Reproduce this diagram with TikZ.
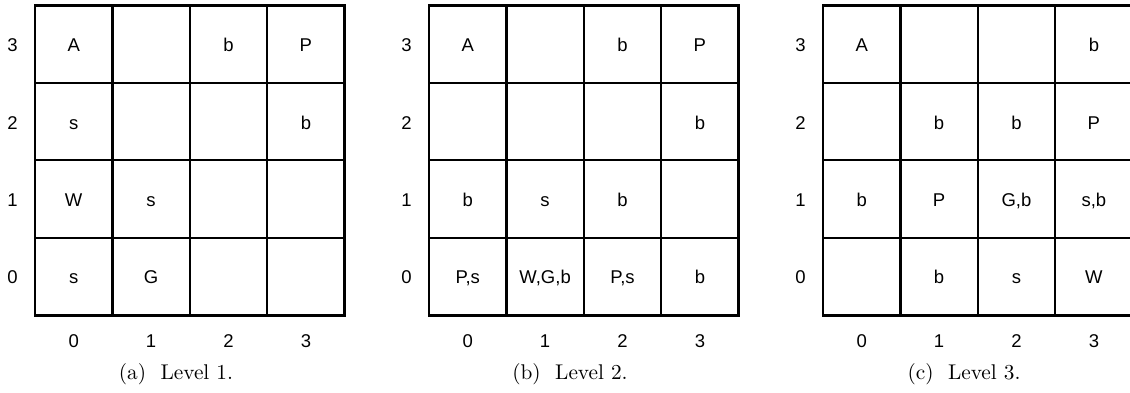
\documentclass[tikz,border=0pt]{standalone}
\usepackage{graphicx}
\usepackage{fontspec}
\newfontfamily\gridfont{Liberation Sans}
\tikzset{
  celltext/.style={font=\gridfont\fontsize{18.5}{22}\selectfont, anchor=base, inner sep=0pt},
  captext/.style={font=\fontsize{10}{12}\selectfont, anchor=base, inner sep=0pt},
  outerline/.style={line width=2.8pt, line join=miter},
  innerline/.style={line width=2.2pt},
}
\newcommand\drawlevel[5]{%
  \begin{scope}[xshift=#2pt]
    \foreach \i in {1,2,3} {
      \draw[innerline] ({77.4*\i},5.5) -- ({77.4*\i},315.1);
      \draw[innerline] (0,{5.5+77.4*\i}) -- (309.6,{5.5+77.4*\i});
    }
    \draw[outerline] (0,5.5) rectangle (309.6,315.1);
    \foreach \c/\r/\t in {#3}
      \node[celltext] (#1-\c-\r) at ({38.7+77.4*\c},{5.5+38.7+77.4*(3-\r)+7.5}) {\t};
    \foreach \r in {0,...,3}
      \node[celltext] (#1-row\r) at (-22.5,{5.5+38.7+77.4*(3-\r)+7.5}) {\r};
    \foreach \c in {0,...,3}
      \node[celltext] (#1-col\c) at ({38.7+77.4*\c},347) {\c};
    \node[captext] (#1-cap) at (141,379) {\scalebox{2.13}{(#1)\hskip0.68em Level #4.}};
  \end{scope}}
\begin{document}
\begin{tikzpicture}[x=1pt,y=-1pt]
\useasboundingbox (0,0) rectangle (1130,392);
\clip (0,0) rectangle (1130,392);
\drawlevel{a}{35}{0/3/A, 2/3/b, 3/3/P, 0/2/s, 3/2/b, 0/1/W, 1/1/s, 0/0/s, 1/0/G}{1}{}
\drawlevel{b}{429}{0/3/A, 2/3/b, 3/3/P, 3/2/b, 0/1/b, 1/1/s, 2/1/b, 0/0/{P,s}, 1/0/{W,G,b}, 2/0/{P,s}, 3/0/b}{2}{}
\drawlevel{c}{823}{0/3/A, 3/3/b, 1/2/b, 2/2/b, 3/2/P, 0/1/b, 1/1/P, 2/1/{G,b}, 3/1/{s,b}, 1/0/b, 2/0/s, 3/0/W}{3}{}
\end{tikzpicture}
\end{document}
